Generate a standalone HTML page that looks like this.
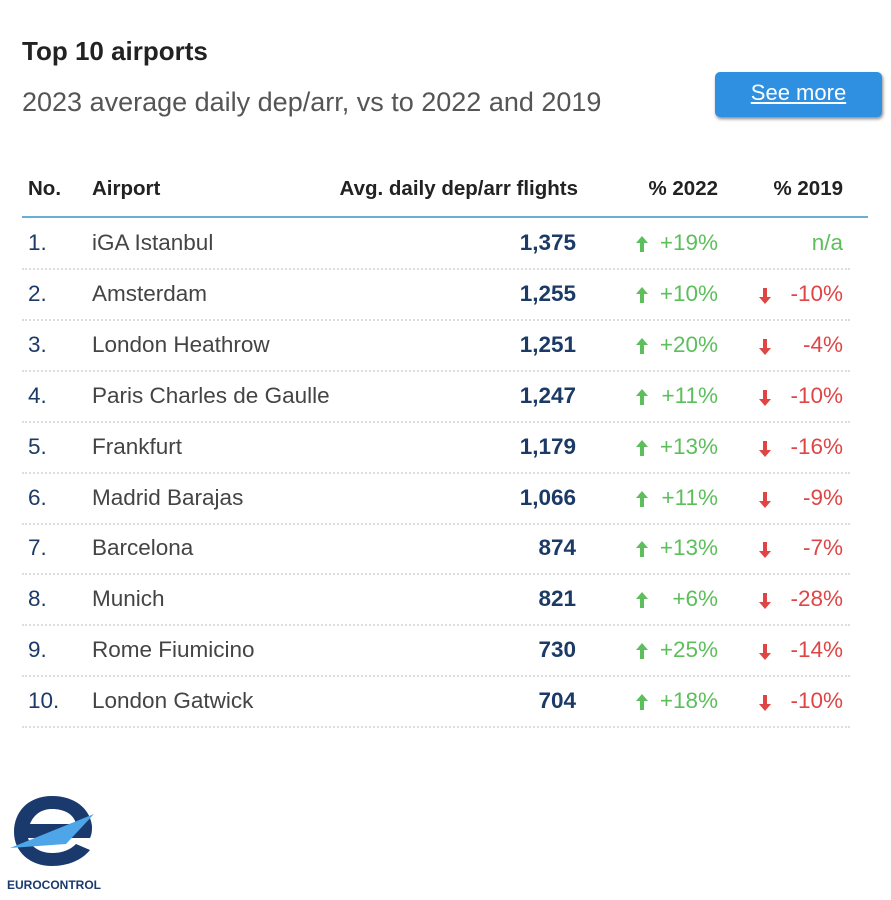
<!DOCTYPE html>
<html><head><meta charset="utf-8"><style>
body{margin:0;width:891px;height:900px;background:#fff;font-family:"Liberation Sans",sans-serif;position:relative;overflow:hidden}
.a{position:absolute;white-space:nowrap}
.t{left:22px;top:36px;font-size:26px;font-weight:bold;color:#222}
.s{left:22px;top:87px;font-size:27px;color:#555}
.btn{left:715px;top:72px;width:167px;height:45px;background:#2f8fe0;border-radius:5px;box-shadow:1px 2px 3px #888;color:#fff;font-size:22px;text-align:center;line-height:42px;text-decoration:underline}
.h{font-size:20.5px;font-weight:bold;color:#222;top:177px}
.line{position:absolute;left:22px;width:846px;top:216px;height:2px;background:#6aaed6}
.sep{position:absolute;left:22px;width:828px;height:0;border-top:2px dotted #ddd}
.r{font-size:22.5px}
.no{left:28px;color:#1b3a66}
.ap{left:92px;color:#444}
.num{right:315px;font-weight:bold;color:#1b3a66}
.g{color:#5cbf5c}.red{color:#e04545}
.p1{right:173px}.p2{right:48px}
.ar1{left:636px}.ar2{left:759px}
</style></head><body>
<div class="a t">Top 10 airports</div>
<div class="a s">2023 average daily dep/arr, vs to 2022 and 2019</div>
<div class="a btn">See more</div>
<div class="a h" style="left:28px">No.</div>
<div class="a h" style="left:92px">Airport</div>
<div class="a h" style="right:313px">Avg. daily dep/arr flights</div>
<div class="a h" style="right:173px">% 2022</div>
<div class="a h" style="right:48px">% 2019</div>
<div class="line"></div>
<div id="rows"></div>
<script>
var d=[["1.","iGA Istanbul","1,375","+19%","n/a"],["2.","Amsterdam","1,255","+10%","-10%"],["3.","London Heathrow","1,251","+20%","-4%"],["4.","Paris Charles de Gaulle","1,247","+11%","-10%"],["5.","Frankfurt","1,179","+13%","-16%"],["6.","Madrid Barajas","1,066","+11%","-9%"],["7.","Barcelona","874","+13%","-7%"],["8.","Munich","821","+6%","-28%"],["9.","Rome Fiumicino","730","+25%","-14%"],["10.","London Gatwick","704","+18%","-10%"]];
var h="";
d.forEach(function(r,i){var y=230+i*50.9;
var up='<svg class="a ar1" style="top:'+(y+6)+'px" width="12" height="16"><path d="M6 0L12 7H8V16H4V7H0Z" fill="#5cbf5c"/></svg>';
var dn='<svg class="a ar2" style="top:'+(y+7)+'px" width="12" height="16"><path d="M6 16L12 9H8V0H4V9H0Z" fill="#e04545"/></svg>';
h+='<div class="a r no" style="top:'+y+'px">'+r[0]+'</div><div class="a r ap" style="top:'+y+'px">'+r[1]+'</div><div class="a r num" style="top:'+y+'px">'+r[2]+'</div>'+up+'<div class="a r g p1" style="top:'+y+'px">'+r[3]+'</div>';
if(r[4]=="n/a")h+='<div class="a r g p2" style="top:'+y+'px">n/a</div>';else h+=dn+'<div class="a r red p2" style="top:'+y+'px">'+r[4]+'</div>';
h+='<div class="sep" style="top:'+(y+38)+'px"></div>';});
document.getElementById("rows").innerHTML=h;
</script>
<svg class="a" style="left:6px;top:792px" width="92" height="80" viewBox="0 0 92 80">
<path d="M46 4C22 4 8 20 8 40C8 60 24 74 46 74C62 74 76 68 84 58L70 52C64 58 56 61 46 61C34 61 25 55 22 46H84C86 42 86 38 86 34C84 16 68 4 46 4ZM24 32C28 22 36 17 46 17C58 17 68 22 70 32Z" fill="#1a3a6e"/>
<path d="M4 56L88 22L60 52Z" fill="#4ea6e8"/>
</svg>
<div class="a" style="left:7px;top:878px;font-size:12px;font-weight:bold;color:#1a3a6e">EUROCONTROL</div>
</body></html>
